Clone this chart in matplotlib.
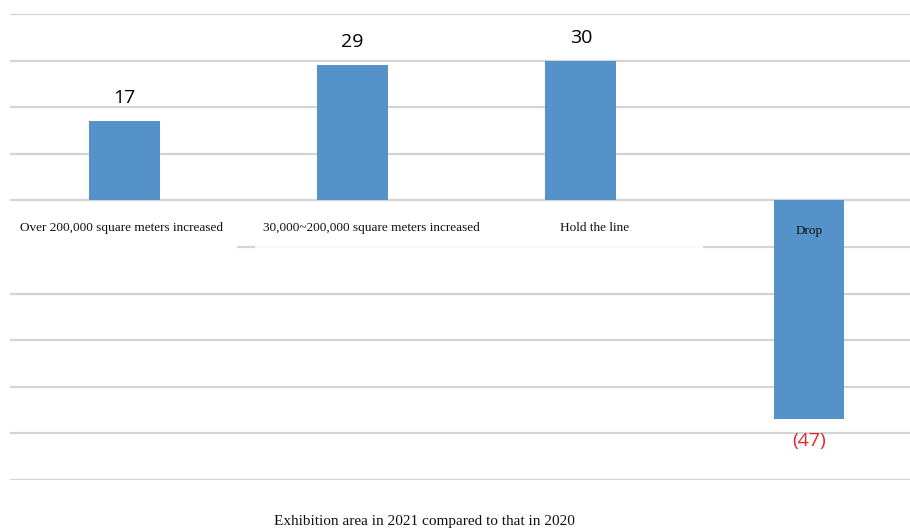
import matplotlib.pyplot as plt
from matplotlib.patches import Rectangle
import numpy as np

categories = ['Over 200,000 square meters increased',
              '30,000~200,000 square meters increased',
              'Hold the line',
              'Drop']
values = [17, 29, 30, -47]
value_labels = ['17', '29', '30', '(47)']
xlabel = 'Exhibition area in 2021 compared to that in 2020'

barColor = '#5592c9'
gridColor = '#d4d4d4'

fig = plt.figure(figsize=(9.10, 5.29), dpi=100)
ax = fig.add_axes([10/910, 49/529, 900/910, 466/529])

x = np.arange(len(categories))
bars = ax.bar(x, values, width=0.31, color=barColor, zorder=3)

ax.set_xlim(-0.502, 3.443)
ax.set_ylim(-60, 40)
ax.set_yticks(np.arange(-60, 41, 10))
ax.yaxis.grid(True, color=gridColor, linewidth=1.6, zorder=0)
ax.set_xticks([])
ax.tick_params(axis='y', length=0, labelleft=False)
for s in ax.spines.values():
    s.set_visible(False)

# white label backgrounds hiding the -10 gridline (as in the pasted original)
ax.add_patch(Rectangle((-0.502, -12), 0.996, 11, facecolor='white', edgecolor='none', zorder=2))
ax.add_patch(Rectangle((0.572, -12), 1.965, 11, facecolor='white', edgecolor='none', alpha=0.85, zorder=2))

# value labels
for b, v, lab in zip(bars, values, value_labels):
    cx = b.get_x() + b.get_width()/2
    if v >= 0:
        ax.annotate(lab, (cx, v), xytext=(0, 10), textcoords='offset points',
                    ha='center', va='bottom', fontsize=14, family='Open Sans', color='black')
    else:
        ax.annotate(lab, (cx, v), xytext=(0, -9), textcoords='offset points',
                    ha='center', va='top', fontsize=14, family='Open Sans', color='#e8262a')

# category labels sitting inside the plot under the zero line
offsets = [-0.015, 0.08, 0.06, 0.0]
ys = [-6, -6, -6, -6.6]
for i, (cat, off) in enumerate(zip(categories, offsets)):
    ax.text(i + off, ys[i], cat, ha='center', va='center', fontsize=9.5,
            family='Liberation Serif', color='#111111', zorder=4)

fig.text(424/910, 1 - 521/529, xlabel, ha='center', va='center',
         fontsize=11, family='Liberation Serif', color='#111111')

fig.savefig('out.png', dpi=100)
